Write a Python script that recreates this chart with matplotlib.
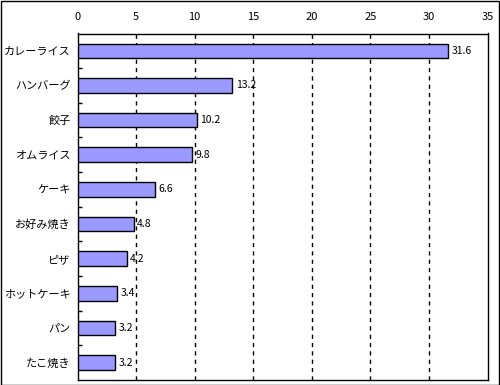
import matplotlib
matplotlib.use("Agg")
import matplotlib.pyplot as plt
from matplotlib.patches import Rectangle

plt.rcParams['font.family'] = ['Noto Sans CJK JP', 'DejaVu Sans']

categories = ["カレーライス", "ハンバーグ", "餃子", "オムライス", "ケーキ",
              "お好み焼き", "ピザ", "ホットケーキ", "パン", "たこ焼き"]
values = [31.6, 13.2, 10.2, 9.8, 6.6, 4.8, 4.2, 3.4, 3.2, 3.2]
xticks = [0, 5, 10, 15, 20, 25, 30, 35]

fig = plt.figure(figsize=(5, 3.85), dpi=100)
W, H = 500, 385
ax = fig.add_axes([77.5 / W, 1 - 380 / H, (487.5 - 77.5) / W, (380 - 33.5) / H])

n = len(categories)
ypos = list(range(n))
ax.barh(ypos, values, height=0.42, color="#9999FF", edgecolor="black", linewidth=1, zorder=3)
for y, v in zip(ypos, values):
    ax.text(v + 0.3, y, f"{v}", va="center", ha="left", fontsize=7.5, zorder=4)

ax.set_xlim(0, 35)
ax.set_ylim(n - 0.5, -0.5)
ax.set_xticks(xticks)
ax.xaxis.tick_top()
ax.tick_params(axis="x", length=0, labelsize=8, pad=8)
ax.set_yticks(ypos)
ax.set_yticklabels(categories)
ax.tick_params(axis="y", which="major", length=0, labelsize=8, pad=5)
ax.set_yticks([i + 0.5 for i in range(n - 1)], minor=True)
ax.tick_params(axis="y", which="minor", direction="in", length=3, width=1)
for x in xticks[1:-1]:
    ax.axvline(x, color="black", linestyle=(0, (3, 3)), linewidth=1, zorder=1)
for s in ax.spines.values():
    s.set_linewidth(1)

fig.patches.append(Rectangle((0.5 / W, 0.5 / H), (W - 1.5) / W, (H - 1.5) / H,
                             transform=fig.transFigure, fill=False, edgecolor="black", linewidth=1))
fig.savefig("out.png", dpi=100)
